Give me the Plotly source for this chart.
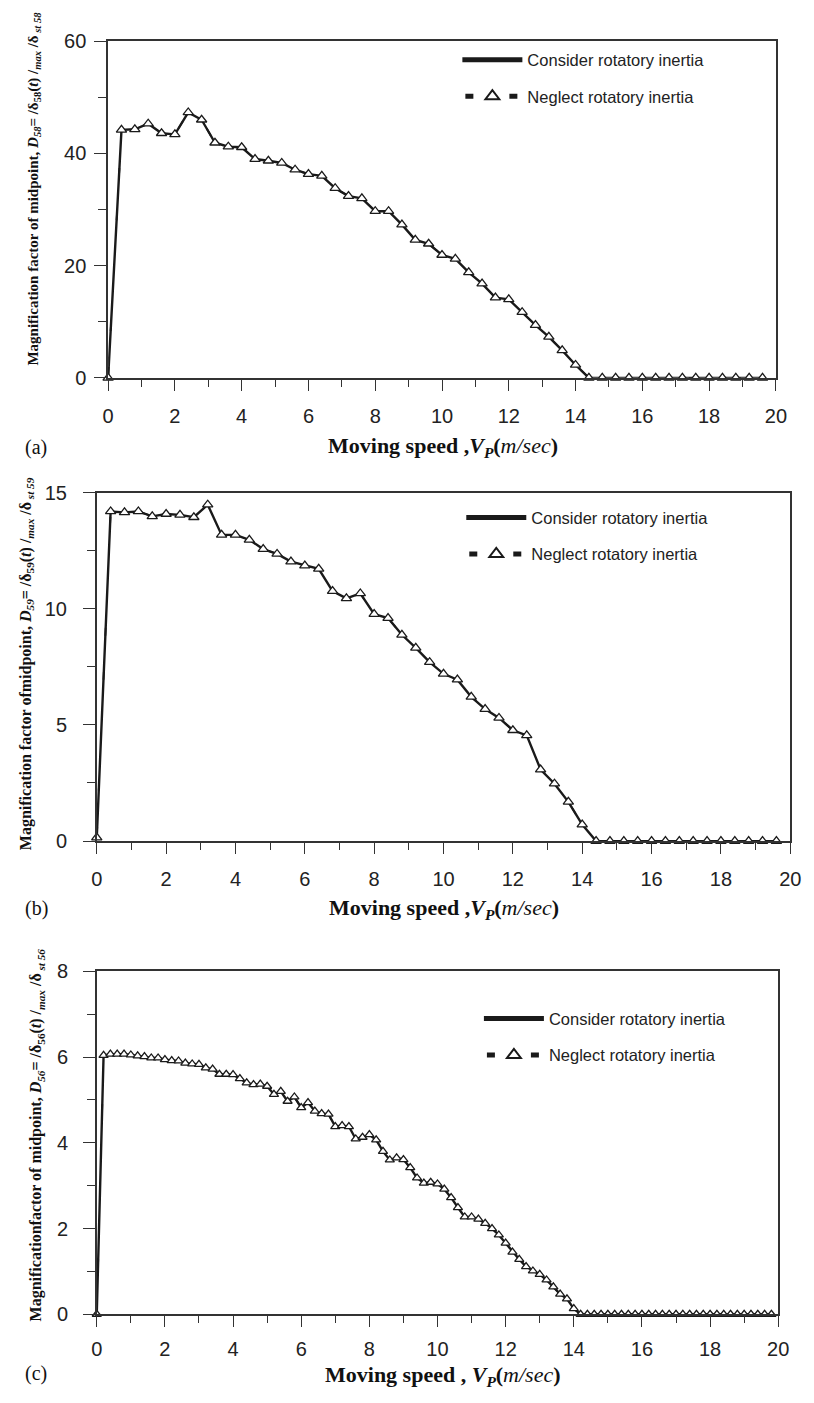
import plotly.graph_objects as go

W, H = 814, 1403

# ---------------- data ----------------
speed_ab = [0.0, 0.4, 0.8, 1.2, 1.6, 2.0, 2.4, 2.8, 3.2, 3.6, 4.0, 4.4, 4.8, 5.2, 5.6,
            6.0, 6.4, 6.8, 7.2, 7.6, 8.0, 8.4, 8.8, 9.2, 9.6, 10.0, 10.4, 10.8, 11.2,
            11.6, 12.0, 12.4, 12.8, 13.2, 13.6, 14.0, 14.4, 14.8, 15.2, 15.6, 16.0,
            16.4, 16.8, 17.2, 17.6, 18.0, 18.4, 18.8, 19.2, 19.6]

d58_consider = [0.0, 44.2, 44.3, 45.3, 43.6, 43.4, 47.3, 46.0, 41.9, 41.2, 41.1, 39.0,
                38.7, 38.3, 37.1, 36.3, 36.0, 33.8, 32.4, 32.0, 29.7, 29.7, 27.3, 24.6,
                23.9, 21.9, 21.2, 18.8, 16.8, 14.3, 14.0, 11.7, 9.4, 7.3, 4.9, 2.3, 0.0,
                0.0, 0.0, 0.0, 0.0, 0.0, 0.0, 0.0, 0.0, 0.0, 0.0, 0.0, 0.0, 0.0]
d58_neglect = [0.0, 44.2, 44.3, 45.3, 43.6, 43.4, 47.3, 46.0, 41.9, 41.2, 41.1, 39.0,
               38.7, 38.3, 37.1, 36.3, 36.0, 33.8, 32.4, 32.0, 29.7, 29.7, 27.3, 24.6,
               23.9, 21.9, 21.2, 18.8, 16.8, 14.3, 14.0, 11.7, 9.4, 7.3, 4.9, 2.3, 0.0,
               0.0, 0.0, 0.0, 0.0, 0.0, 0.0, 0.0, 0.0, 0.0, 0.0, 0.0, 0.0, 0.0]

d59_consider = [0.15, 14.19, 14.15, 14.19, 13.98, 14.08, 14.04, 13.94, 14.48, 13.18, 13.18,
                12.97, 12.57, 12.36, 12.03, 11.86, 11.72, 10.76, 10.45, 10.66, 9.77, 9.60,
                8.88, 8.32, 7.70, 7.20, 6.95, 6.21, 5.68, 5.30, 4.77, 4.55, 3.08, 2.47,
                1.69, 0.71, 0.0, 0.0, 0.0, 0.0, 0.0, 0.0, 0.0, 0.0, 0.0, 0.0, 0.0, 0.0,
                0.0, 0.0]
d59_neglect = [0.15, 14.19, 14.15, 14.19, 13.98, 14.08, 14.04, 13.94, 14.48, 13.18, 13.18,
               12.97, 12.57, 12.36, 12.03, 11.86, 11.72, 10.76, 10.45, 10.66, 9.77, 9.60,
               8.88, 8.32, 7.70, 7.20, 6.95, 6.21, 5.68, 5.30, 4.77, 4.55, 3.08, 2.47,
               1.69, 0.71, 0.0, 0.0, 0.0, 0.0, 0.0, 0.0, 0.0, 0.0, 0.0, 0.0, 0.0, 0.0,
               0.0, 0.0]

speed_c = [0.0, 0.2, 0.4, 0.6, 0.8, 1.0, 1.2, 1.4, 1.6, 1.8, 2.0, 2.2, 2.4, 2.6, 2.8,
           3.0, 3.2, 3.4, 3.6, 3.8, 4.0, 4.2, 4.4, 4.6, 4.8, 5.0, 5.2, 5.4, 5.6, 5.8,
           6.0, 6.2, 6.4, 6.6, 6.8, 7.0, 7.2, 7.4, 7.6, 7.8, 8.0, 8.2, 8.4, 8.6, 8.8,
           9.0, 9.2, 9.4, 9.6, 9.8, 10.0, 10.2, 10.4, 10.6, 10.8, 11.0, 11.2, 11.4, 11.6,
           11.8, 12.0, 12.2, 12.4, 12.6, 12.8, 13.0, 13.2, 13.4, 13.6, 13.8, 14.0, 14.2,
           14.4, 14.6, 14.8, 15.0, 15.2, 15.4, 15.6, 15.8, 16.0, 16.2, 16.4, 16.6, 16.8,
           17.0, 17.2, 17.4, 17.6, 17.8, 18.0, 18.2, 18.4, 18.6, 18.8, 19.0, 19.2, 19.4,
           19.6, 19.8]

d56_consider = [0.0, 6.04, 6.07, 6.07, 6.07, 6.05, 6.03, 6.01, 5.98, 5.98, 5.94, 5.92,
                5.91, 5.86, 5.84, 5.83, 5.75, 5.72, 5.60, 5.60, 5.59, 5.50, 5.40, 5.36,
                5.37, 5.32, 5.13, 5.20, 4.97, 5.07, 4.82, 4.94, 4.74, 4.68, 4.67, 4.38,
                4.40, 4.38, 4.09, 4.13, 4.19, 4.07, 3.80, 3.60, 3.65, 3.61, 3.42, 3.18,
                3.06, 3.08, 3.04, 2.92, 2.72, 2.49, 2.27, 2.27, 2.22, 2.12, 2.00, 1.85,
                1.66, 1.45, 1.28, 1.11, 1.01, 0.93, 0.80, 0.64, 0.47, 0.36, 0.13, 0.0,
                0.0, 0.0, 0.0, 0.0, 0.0, 0.0, 0.0, 0.0, 0.0, 0.0, 0.0, 0.0, 0.0, 0.0,
                0.0, 0.0, 0.0, 0.0, 0.0, 0.0, 0.0, 0.0, 0.0, 0.0, 0.0, 0.0, 0.0, 0.0]
d56_neglect = [0.0, 6.04, 6.07, 6.07, 6.07, 6.05, 6.03, 6.01, 5.98, 5.98, 5.94, 5.92,
               5.91, 5.86, 5.84, 5.83, 5.75, 5.72, 5.60, 5.60, 5.59, 5.50, 5.40, 5.36,
               5.37, 5.32, 5.13, 5.20, 4.97, 5.07, 4.82, 4.94, 4.74, 4.68, 4.67, 4.38,
               4.40, 4.38, 4.09, 4.13, 4.19, 4.07, 3.80, 3.60, 3.65, 3.61, 3.42, 3.18,
               3.06, 3.08, 3.04, 2.92, 2.72, 2.49, 2.27, 2.27, 2.22, 2.12, 2.00, 1.85,
               1.66, 1.45, 1.28, 1.11, 1.01, 0.93, 0.80, 0.64, 0.47, 0.36, 0.13, 0.0,
               0.0, 0.0, 0.0, 0.0, 0.0, 0.0, 0.0, 0.0, 0.0, 0.0, 0.0, 0.0, 0.0, 0.0,
               0.0, 0.0, 0.0, 0.0, 0.0, 0.0, 0.0, 0.0, 0.0, 0.0, 0.0, 0.0, 0.0, 0.0]

x_ticks = [0, 2, 4, 6, 8, 10, 12, 14, 16, 18, 20]
y_ranges = [[0, 60], [0, 15], [0, 8]]
y_dticks = [20, 5, 2]

legend_names = ["Consider rotatory inertia", "Neglect rotatory inertia"]

y_titles = [
    "<b>Magnification factor of midpoint, <i>D</i><sub><i>58</i></sub>= /δ<sub>58</sub>(<i>t</i>) /<sub><i>max</i></sub> /δ<sub><i> st 58</i></sub></b>",
    "<b>Magnification factor ofmidpoint, <i>D</i><sub><i>59</i></sub>= /δ<sub>59</sub>(<i>t</i>) /<sub><i>max</i></sub> /δ<sub><i> st 59</i></sub></b>",
    "<b>Magnificationfactor of midpoint, <i>D</i><sub><i>56</i></sub>= /δ<sub>56</sub>(<i>t</i>) /<sub><i>max</i></sub> /δ<sub><i> st 56</i></sub></b>",
]
x_titles = [
    "<b>Moving speed ,<i>V</i><sub><i>P</i></sub>(</b><i>m/sec</i><b>)</b>",
    "<b>Moving speed ,<i>V</i><sub><i>P</i></sub>(</b><i>m/sec</i><b>)</b>",
    "<b>Moving speed , <i>V</i><sub><i>P</i></sub>(</b><i>m/sec</i><b>)</b>",
]
panel_labels = ["(a)", "(b)", "(c)"]

# ---------------- layout geometry (pixels) ----------------
panels = [
    dict(x0=104.3, x1=786.3, y0=30.7, y1=372.7, std=4, xstd=8, ytx=29, yty=180, ytf=15,
         xtx=446, xty=443, lbx=31, lby=443, lgx=461, lgy=32, msz=9),
    dict(x0=92.7, x1=801.0, y0=489.3, y1=843.3, std=12, xstd=8, ytx=21, yty=663, ytf=16,
         xtx=447, xty=912, lbx=31, lby=912, lgx=465, lgy=497, msz=9),
    dict(x0=92.7, x1=788.7, y0=975.7, y1=1324.0, std=11, xstd=5, ytx=31, yty=1142, ytf=16,
         xtx=446, xty=1387, lbx=31, lby=1384, lgx=483, lgy=1006, msz=8),
]

SERIF = "Liberation Serif, Times New Roman, serif"
SANS = "Liberation Sans, Arial, Helvetica, sans-serif"
INK = "#1a1a1a"
AX = "#333333"

fig = go.Figure()
series = [(speed_ab, d58_consider, d58_neglect),
          (speed_ab, d59_consider, d59_neglect),
          (speed_c, d56_consider, d56_neglect)]

annotations = []
layout = dict(width=W, height=H, autosize=False,
              margin=dict(l=0, r=0, t=0, b=0),
              paper_bgcolor="white", plot_bgcolor="white", showlegend=True)

for i, (p, (xs, yc, yn)) in enumerate(zip(panels, series)):
    n = "" if i == 0 else str(i + 1)
    lg = "legend" + n
    fig.add_trace(go.Scatter(x=xs, y=yc, mode="lines", name=legend_names[0],
                             line=dict(color=INK, width=2.4),
                             xaxis="x" + n, yaxis="y" + n, legend=lg,
                             legendgroup="c" + n, cliponaxis=False))
    fig.add_trace(go.Scatter(x=xs, y=yn, mode="lines+markers", name=legend_names[1],
                             line=dict(color=INK, width=1.8,
                                       dash="0px,3px,8px,36px,8px,100px"),
                             marker=dict(symbol="triangle-up", size=p["msz"], color="white",
                                         line=dict(color=INK, width=1.3)),
                             xaxis="x" + n, yaxis="y" + n, legend=lg,
                             legendgroup="n" + n, cliponaxis=False))

    layout["xaxis" + n] = dict(
        domain=[p["x0"] / W, p["x1"] / W], range=[0, 20], anchor="y" + n,
        tickmode="array", tickvals=x_ticks, ticks="outside", ticklen=11,
        tickwidth=1.3, tickcolor=AX, showline=True, linecolor=AX, linewidth=1.5,
        mirror=True, showgrid=False, zeroline=False, ticklabelstandoff=p["xstd"],
        tickfont=dict(family=SANS, size=20, color="#222222"),
        minor=dict(ticks="outside", ticklen=7, tickwidth=1.3, tickcolor=AX,
                   dtick=1, tick0=0, showgrid=False))
    layout["yaxis" + n] = dict(
        domain=[1 - p["y1"] / H, 1 - p["y0"] / H], range=y_ranges[i], anchor="x" + n,
        dtick=y_dticks[i], tick0=0, ticks="outside", ticklen=12, tickwidth=1.3,
        tickcolor=AX, showline=True, linecolor=AX, linewidth=1.5, mirror=True,
        showgrid=False, zeroline=False, ticklabelstandoff=p["std"],
        tickfont=dict(family=SANS, size=20, color="#222222"),
        minor=dict(ticks="outside", ticklen=8, tickwidth=1.3, tickcolor=AX,
                   dtick=y_dticks[i] / 2, tick0=0, showgrid=False))
    layout[lg] = dict(x=p["lgx"] / W, y=1 - p["lgy"] / H, xanchor="left", yanchor="top",
                      bgcolor="rgba(0,0,0,0)", borderwidth=0, tracegroupgap=12,
                      traceorder="grouped", itemwidth=60, itemsizing="constant",
                      font=dict(family=SANS, size=16.5, color="#222222"))

    annotations.append(dict(text=y_titles[i], textangle=-90, xref="paper", yref="paper",
                            x=p["ytx"] / W, y=1 - p["yty"] / H, xanchor="center",
                            yanchor="middle", showarrow=False,
                            font=dict(family=SERIF, size=p["ytf"], color="#111111")))
    annotations.append(dict(text=x_titles[i], xref="paper", yref="paper",
                            x=p["xtx"] / W, y=1 - p["xty"] / H, xanchor="center",
                            yanchor="middle", showarrow=False,
                            font=dict(family=SERIF, size=22, color="#111111")))
    annotations.append(dict(text=panel_labels[i], xref="paper", yref="paper",
                            x=p["lbx"] / W, y=1 - p["lby"] / H, xanchor="center",
                            yanchor="middle", showarrow=False,
                            font=dict(family=SERIF, size=20, color="#111111")))

layout["annotations"] = annotations
fig.update_layout(**layout)
fig.write_html("out.html")
